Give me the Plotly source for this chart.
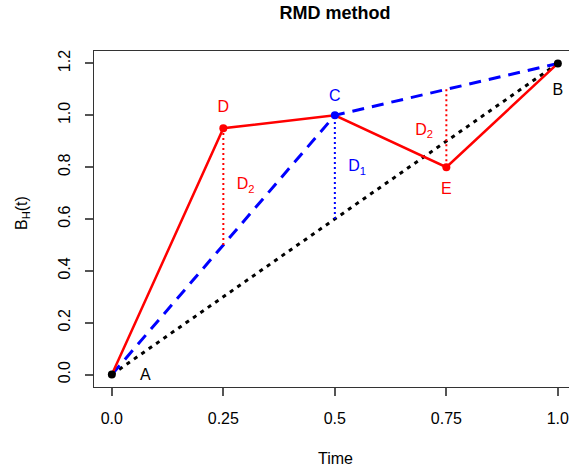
import plotly.graph_objects as go

# Points
pt_names = ["A", "D", "C", "E", "B"]
pt_t = [0.0, 0.25, 0.5, 0.75, 1.0]
pt_b = [0.0, 0.95, 1.0, 0.8, 1.2]

# Black dotted: straight A-B
ab_t = [0.0, 1.0]
ab_b = [0.0, 1.2]
# Blue dashed: A-C-B
acb_t = [0.0, 0.5, 1.0]
acb_b = [0.0, 1.0, 1.2]
# Red solid: A-D-C-E-B
red_t = [0.0, 0.25, 0.5, 0.75, 1.0]
red_b = [0.0, 0.95, 1.0, 0.8, 1.2]
# Displacements
d1_t = [0.5, 0.5]
d1_b = [0.6, 1.0]
d2a_t = [0.25, 0.25]
d2a_b = [0.5, 0.95]
d2b_t = [0.75, 0.75]
d2b_b = [1.1, 0.8]

# Labels
lab_text = ["A", "B", "C", "D", "E", "D<sub>2</sub>", "D<sub>1</sub>", "D<sub>2</sub>"]
lab_t = [0.075, 1.0, 0.5, 0.25, 0.75, 0.30, 0.55, 0.70]
lab_b = [-0.005, 1.095, 1.07, 1.03, 0.71, 0.73, 0.80, 0.94]
lab_col = ["black", "black", "blue", "red", "red", "red", "blue", "red"]

xticks = [0, 0.25, 0.5, 0.75, 1.0]
xticklabels = ["0.0", "0.25", "0.5", "0.75", "1.0"]
yticks = [0, 0.2, 0.4, 0.6, 0.8, 1.0, 1.2]
yticklabels = ["0.0", "0.2", "0.4", "0.6", "0.8", "1.0", "1.2"]

FONT = "Liberation Sans, Arial, sans-serif"

fig = go.Figure()
fig.add_trace(go.Scatter(x=ab_t, y=ab_b, mode="lines",
                         line=dict(color="black", width=3, dash="4px,5px")))
fig.add_trace(go.Scatter(x=acb_t, y=acb_b, mode="lines",
                         line=dict(color="blue", width=3, dash="12px,8px")))
fig.add_trace(go.Scatter(x=red_t, y=red_b, mode="lines",
                         line=dict(color="red", width=2.5)))
fig.add_trace(go.Scatter(x=d1_t, y=d1_b, mode="lines",
                         line=dict(color="blue", width=2, dash="2px,3px")))
fig.add_trace(go.Scatter(x=d2a_t, y=d2a_b, mode="lines",
                         line=dict(color="red", width=2, dash="2px,3px")))
fig.add_trace(go.Scatter(x=d2b_t, y=d2b_b, mode="lines",
                         line=dict(color="red", width=2, dash="2px,3px")))
pt_col = ["black", "red", "blue", "red", "black"]
fig.add_trace(go.Scatter(x=pt_t, y=pt_b, mode="markers",
                         marker=dict(color=pt_col, size=8)))
fig.add_trace(go.Scatter(x=lab_t, y=lab_b, mode="text", text=lab_text,
                         textfont=dict(color=lab_col, size=16, family=FONT)))

fig.update_layout(
    width=569, height=473,
    margin=dict(l=94, r=0, t=51, b=86),
    plot_bgcolor="white", paper_bgcolor="white",
    showlegend=False,
    font=dict(family=FONT, size=16, color="black"),
    title=dict(text="<b>RMD method</b>", x=(335) / 569, xanchor="center",
               y=1 - 13 / 473, yanchor="middle", font=dict(size=18)),
    xaxis=dict(range=[-0.04, 1.025], tickvals=xticks, ticktext=xticklabels,
               showgrid=False, zeroline=False, showline=True, linecolor="#333",
               linewidth=1, mirror=True, ticks="outside", ticklen=8,
               tickcolor="#555", tickwidth=1.5, ticklabelstandoff=9,
               ticklabeloverflow="allow"),
    yaxis=dict(range=[-0.048, 1.248], tickvals=yticks, ticktext=yticklabels,
               showgrid=False, zeroline=False, showline=True, linecolor="#333",
               linewidth=1, ticks="outside", ticklen=8, tickangle=-90,
               tickcolor="#555", tickwidth=1.5, ticklabelstandoff=9),
    annotations=[
        dict(text="Time", xref="paper", yref="paper", x=(335 - 94) / 475,
             y=-(459 - 387) / 336, showarrow=False, xanchor="center",
             yanchor="middle", font=dict(size=16)),
        dict(text="B<sub>H</sub>(t)", xref="paper", yref="paper",
             x=-(94 - 23) / 475, y=(387 - 213) / 336, showarrow=False,
             textangle=-90, xanchor="center", yanchor="middle",
             font=dict(size=16)),
    ],
)

fig.write_html("out.html")
